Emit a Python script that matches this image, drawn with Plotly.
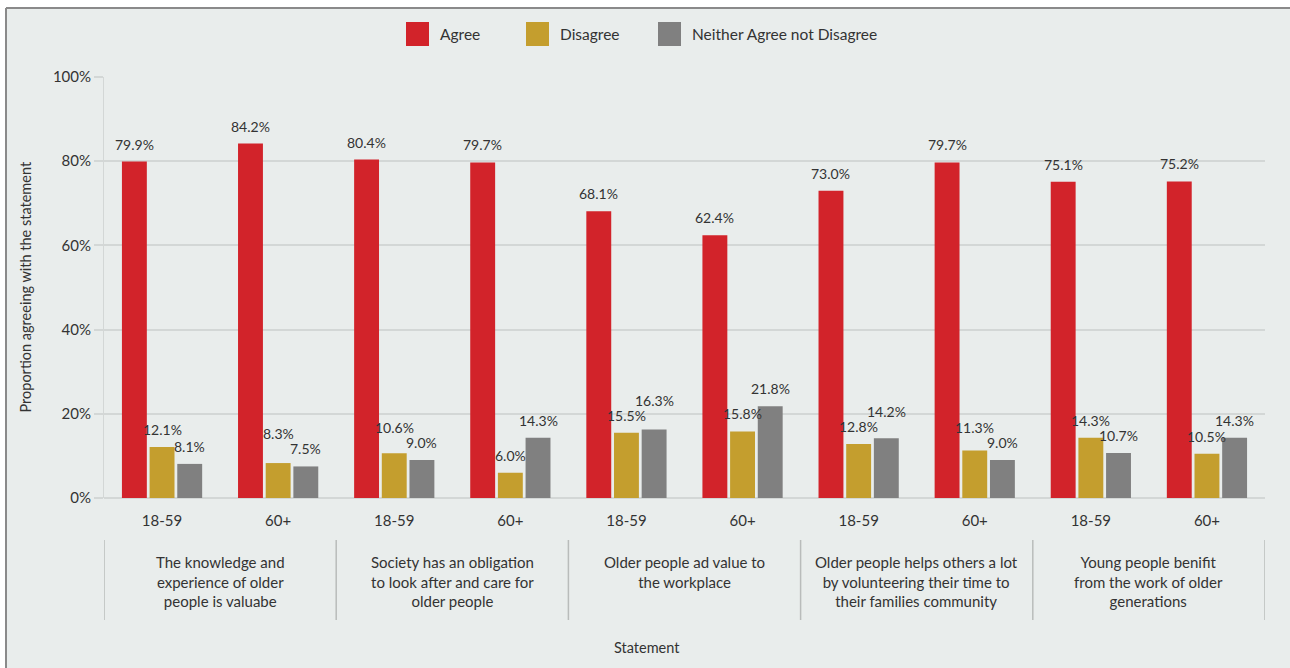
import plotly.graph_objects as go

# Survey results: share of respondents by statement and age group
statements = [
    "The knowledge and<br>experience of older<br>people is valuabe",
    "Society has an obligation<br>to look after and care for<br>older people",
    "Older people ad value to<br>the workplace",
    "Older people helps others a lot<br>by volunteering their time to<br>their families community",
    "Young people benifit<br>from the work of older<br>generations",
]
age_groups = ["18-59", "60+", "18-59", "60+", "18-59", "60+", "18-59", "60+", "18-59", "60+"]
agree = [79.9, 84.2, 80.4, 79.7, 68.1, 62.4, 73.0, 79.7, 75.1, 75.2]
disagree = [12.1, 8.3, 10.6, 6.0, 15.5, 15.8, 12.8, 11.3, 14.3, 10.5]
neither = [8.1, 7.5, 9.0, 14.3, 16.3, 21.8, 14.2, 9.0, 10.7, 14.3]
series_names = ["Agree", "Disagree", "Neither Agree not Disagree"]
y_ticks = [0, 20, 40, 60, 80, 100]

colors = ["#d2232a", "#c49e2e", "#808080"]
text_color = "#333333"
grid_color = "#d3d7d6"
bg_color = "#e9edec"
frame_color = "#8a8a8a"
font_family = "Lato"
label_size = 14

W, H = 1290, 668
ML, MR, MT, MB = 104, 25, 77, 170
PW, PH = W - ML - MR, H - MT - MB

BARGAP, BARGROUPGAP = 0.285, 0.1


def px_x(px):
    return (px - ML) / PW


def px_y(py):
    return (H - MB - py) / PH


def label_width(txt):
    # rough rendered width of a value label in pixels
    digits = sum(c.isdigit() for c in txt)
    return digits * 7.8 + 3.6 + 11.5


positions = list(range(len(age_groups)))
series = [agree, disagree, neither]

fig = go.Figure()
for name, vals, col in zip(series_names, series, colors):
    fig.add_trace(go.Bar(
        x=positions, y=vals, name=name, marker=dict(color=col, line=dict(width=0)),
        showlegend=False, hoverinfo="skip",
    ))

# value labels above each bar; neighbouring labels that would collide are lifted
slot = (1 - BARGAP) / len(series)
slot_px = slot * PW / len(age_groups)
base_gap, line_h = 7, 15
annotations = []
for i in positions:
    texts = [f"{s[i]:.1f}%" for s in series]
    bottoms = [s[i] * PH / 100 + base_gap for s in series]  # label bottom above axis, px
    for j in range(1, len(series)):
        k = j - 1
        overlap_x = (label_width(texts[j]) + label_width(texts[k])) / 2 > slot_px
        if overlap_x and abs(bottoms[j] - bottoms[k]) < line_h:
            hi = j if series[j][i] >= series[k][i] else k
            lo = k if hi == j else j
            bottoms[hi] = bottoms[lo] + line_h
    for j, s in enumerate(series):
        off = (j - (len(series) - 1) / 2) * slot
        annotations.append(dict(
            x=i + off, y=s[i], xref="x", yref="y", text=texts[j],
            showarrow=False, yanchor="bottom",
            yshift=bottoms[j] - s[i] * PH / 100,
            font=dict(size=label_size, color=text_color, family=font_family),
        ))

# statement group labels below the age tick labels
for k, s in enumerate(statements):
    annotations.append(dict(
        x=2 * k + 0.5, y=px_y(551), xref="x", yref="paper", text=s,
        showarrow=False, yanchor="top", xanchor="center", align="center",
        font=dict(size=15, color=text_color, family=font_family),
    ))

# axis titles
annotations.append(dict(
    x=px_x(647), y=px_y(647), xref="paper", yref="paper", text="Statement",
    showarrow=False, xanchor="center", yanchor="middle",
    font=dict(size=14.5, color=text_color, family=font_family),
))
annotations.append(dict(
    x=px_x(25), y=0.5, xref="paper", yref="paper",
    text="Proportion agreeing with the statement", textangle=-90,
    showarrow=False, xanchor="center", yanchor="middle",
    font=dict(size=14.5, color=text_color, family=font_family),
))

shapes = []
# panel background with a frame on its top and left edges
shapes.append(dict(
    type="rect", xref="paper", yref="paper", layer="below",
    x0=px_x(6), x1=px_x(W), y0=px_y(H), y1=px_y(8),
    fillcolor=bg_color, line=dict(width=0),
))
shapes.append(dict(
    type="line", xref="paper", yref="paper", layer="below",
    x0=px_x(6), x1=px_x(W), y0=px_y(8), y1=px_y(8),
    line=dict(color=frame_color, width=2),
))
shapes.append(dict(
    type="line", xref="paper", yref="paper", layer="below",
    x0=px_x(6), x1=px_x(6), y0=px_y(8), y1=px_y(H),
    line=dict(color=frame_color, width=2),
))
# group dividers
for b in [-0.5, 1.5, 3.5, 5.5, 7.5, 9.5]:
    shapes.append(dict(
        type="line", xref="x", yref="paper", x0=b, x1=b,
        y0=px_y(540), y1=px_y(620), line=dict(color="#b9bcbb", width=1.5),
    ))

# legend: coloured squares with labels
legend_sq = [406, 526, 658]
for name, col, sx in zip(series_names, colors, legend_sq):
    shapes.append(dict(
        type="rect", xref="paper", yref="paper",
        x0=px_x(sx), x1=px_x(sx + 23), y0=px_y(46), y1=px_y(22),
        fillcolor=col, line=dict(width=0),
    ))
    annotations.append(dict(
        x=px_x(sx + 32), y=px_y(34), xref="paper", yref="paper", text=name,
        showarrow=False, xanchor="left", yanchor="middle",
        font=dict(size=15.5, color=text_color, family=font_family),
    ))

fig.update_layout(
    width=W, height=H,
    margin=dict(l=ML, r=MR, t=MT, b=MB, pad=0),
    paper_bgcolor="white", plot_bgcolor="rgba(0,0,0,0)",
    barmode="group", bargap=BARGAP, bargroupgap=BARGROUPGAP,
    font=dict(family=font_family, color=text_color),
    annotations=annotations, shapes=shapes,
    xaxis=dict(
        range=[-0.5, len(age_groups) - 0.5], tickmode="array",
        tickvals=positions, ticktext=age_groups,
        showgrid=False, zeroline=False, showline=False,
        ticks="outside", ticklen=0, ticklabelstandoff=9,
        tickfont=dict(size=15, color=text_color, family=font_family),
        fixedrange=True,
    ),
    yaxis=dict(
        range=[0, 100], tickmode="array", tickvals=y_ticks,
        ticktext=[f"{t}%" for t in y_ticks],
        showgrid=True, gridcolor=grid_color, gridwidth=2,
        zeroline=True, zerolinecolor=grid_color, zerolinewidth=2,
        showline=True, linecolor=grid_color, linewidth=1,
        ticks="outside", ticklen=9, tickwidth=2, tickcolor=grid_color,
        tickfont=dict(size=15, color=text_color, family=font_family),
        fixedrange=True,
    ),
)

fig.write_html("out.html", config=dict(displayModeBar=False))
